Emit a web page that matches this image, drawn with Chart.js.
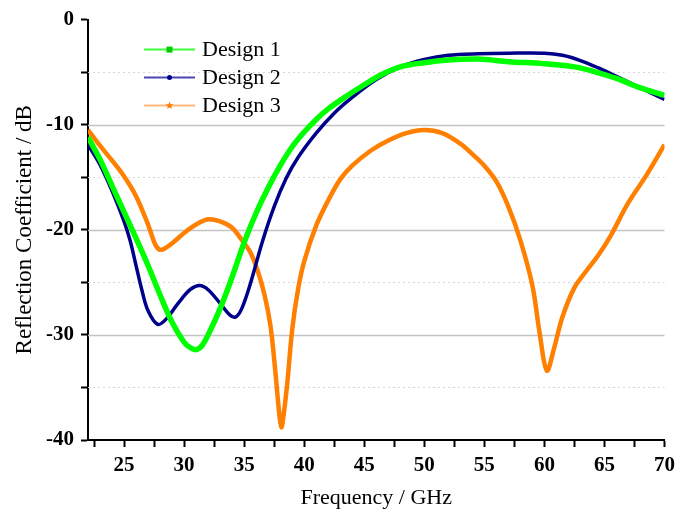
<!DOCTYPE html>
<html>
<head>
<meta charset="utf-8">
<script src="https://cdn.jsdelivr.net/npm/chart.js@4.4.1/dist/chart.umd.min.js"></script>
<style>
  html, body { margin: 0; padding: 0; background: #fff; }
  #wrap { width: 681px; height: 513px; }
</style>
</head>
<body>
<div id="wrap"><canvas id="chart"></canvas></div>
<script>
// Design 1 (green)
const freq1 = [22, 23, 24, 25, 26, 27, 28, 29, 30, 30.5, 31, 31.5, 32, 33, 34, 35, 36, 37, 38, 39, 40, 41, 42, 43.5, 45, 46.5, 48, 50, 52, 54.5, 57, 60, 62.5, 64, 66, 68, 70];
const s11_1 = [-11.2, -13.3, -15.8, -18.3, -20.8, -23.4, -26.2, -28.8, -30.7, -31.2, -31.4, -31.0, -30.0, -27.5, -24.5, -21.2, -18.4, -16.0, -13.9, -12.1, -10.7, -9.5, -8.5, -7.3, -6.2, -5.2, -4.5, -4.1, -3.85, -3.75, -4.0, -4.2, -4.5, -4.9, -5.6, -6.5, -7.2];

// Design 2 (navy)
const freq2 = [22, 23, 24, 25, 25.5, 26, 26.5, 27, 27.8, 28.5, 29.5, 30.5, 31.3, 32, 33, 33.8, 34.3, 34.8, 35.5, 36.5, 37.5, 38.5, 39.5, 41, 42.5, 44, 46, 48, 50, 52, 54.5, 57, 60, 61.5, 63, 64.5, 66, 68, 70];
const s11_2 = [-11.9, -13.8, -16.3, -19.2, -21.0, -23.4, -25.8, -27.7, -29.0, -28.5, -27.0, -25.7, -25.3, -25.7, -27.0, -28.1, -28.3, -27.5, -25.2, -21.2, -17.8, -15.1, -13.1, -10.8, -8.9, -7.4, -5.7, -4.5, -3.8, -3.4, -3.25, -3.2, -3.2, -3.4, -3.9, -4.6, -5.4, -6.5, -7.6];

// Design 3 (orange)
const freq3 = [22, 23, 24, 25, 26, 27, 27.6, 28, 28.5, 29.2, 30, 31, 32, 33, 34, 34.7, 35.5, 36.1, 36.7, 37.2, 37.6, 37.9, 38.1, 38.3, 38.6, 39, 39.5, 40, 41, 42, 43, 44, 45.5, 47, 48.5, 50, 51.5, 53, 54, 55, 56, 57, 58, 59, 59.6, 60.2, 60.8, 61.5, 62.5, 63.5, 64.5, 65.5, 67, 68.5, 70];
const s11_3 = [-10.5, -12.0, -13.4, -14.9, -16.8, -19.5, -21.4, -21.9, -21.7, -21.1, -20.3, -19.5, -19.0, -19.2, -19.8, -20.8, -22.1, -23.8, -26.2, -29.2, -33.5, -37.2, -38.8, -37.5, -34.5, -29.5, -25.6, -23.0, -19.6, -17.2, -15.2, -13.9, -12.5, -11.5, -10.8, -10.5, -10.8, -11.8, -12.8, -13.9, -15.4, -17.8, -21.0, -25.3, -29.8, -33.4, -31.3, -28.3, -25.5, -23.9, -22.4, -20.6, -17.4, -14.8, -11.9];

const seriesNames = ['Design 1', 'Design 2', 'Design 3'];
const xTicks = [22.5, 25, 27.5, 30, 32.5, 35, 37.5, 40, 42.5, 45, 47.5, 50, 52.5, 55, 57.5, 60, 62.5, 65, 67.5, 70];
const yTicks = [0, -5, -10, -15, -20, -25, -30, -35, -40];

const serif = "'Liberation Serif', 'Times New Roman', serif";

function pts(xs, ys) {
    return xs.map((x, i) => ({x: x, y: ys[i]}));
}

// horizontal grid lines: solid every 10 dB, dotted in between
const gridLines = {
    id: 'gridLines',
    beforeDatasetsDraw(chart) {
        const {ctx, chartArea, scales: {y}} = chart;
        ctx.save();
        yTicks.forEach(v => {
            if (v === 0 || v === -40) return;
            const py = Math.round(y.getPixelForValue(v)) + 0.5;
            ctx.beginPath();
            if (v % 10 === 0) {
                ctx.strokeStyle = '#c4c4c4';
                ctx.lineWidth = 1.5;
                ctx.setLineDash([]);
            } else {
                ctx.strokeStyle = '#d6d6d6';
                ctx.lineWidth = 1;
                ctx.setLineDash([2, 3]);
            }
            ctx.moveTo(chartArea.left, py);
            ctx.lineTo(chartArea.right, py);
            ctx.stroke();
        });
        ctx.restore();
    }
};

// legend inside the plot, line with a small marker
const innerLegend = {
    id: 'innerLegend',
    afterDraw(chart) {
        const {ctx, chartArea} = chart;
        const lineCols = ['#3cff3c', '#4848b0', '#ffb880'];
        const markCols = ['#00cc00', '#00008b', '#ff7f00'];
        ctx.save();
        seriesNames.forEach((name, i) => {
            const y = chartArea.top + 30 + i * 28;
            const x0 = chartArea.left + 56, x1 = chartArea.left + 107;
            ctx.strokeStyle = lineCols[i];
            ctx.lineWidth = 2;
            ctx.beginPath();
            ctx.moveTo(x0, y);
            ctx.lineTo(x1, y);
            ctx.stroke();
            const cx = (x0 + x1) / 2;
            ctx.fillStyle = markCols[i];
            if (i === 0) {
                ctx.fillRect(cx - 3, y - 3, 6, 6);
            } else if (i === 1) {
                ctx.beginPath();
                ctx.arc(cx, y, 2.5, 0, Math.PI * 2);
                ctx.fill();
            } else {
                ctx.beginPath();
                for (let k = 0; k < 10; k++) {
                    const r = k % 2 === 0 ? 4 : 1.8;
                    const a = -Math.PI / 2 + k * Math.PI / 5;
                    ctx.lineTo(cx + r * Math.cos(a), y + r * Math.sin(a));
                }
                ctx.closePath();
                ctx.fill();
            }
            ctx.fillStyle = '#000';
            ctx.font = '22px ' + serif;
            ctx.textBaseline = 'middle';
            ctx.textAlign = 'left';
            ctx.fillText(name, x1 + 7, y + 1);
        });
        ctx.restore();
    }
};

new Chart(document.getElementById('chart'), {
    type: 'line',
    data: {
        datasets: [
            {label: seriesNames[0], data: pts(freq1, s11_1), borderColor: '#00ff00', borderWidth: 5.5},
            {label: seriesNames[1], data: pts(freq2, s11_2), borderColor: '#00008b', borderWidth: 3.5},
            {label: seriesNames[2], data: pts(freq3, s11_3), borderColor: '#ff7f00', borderWidth: 4.5}
        ]
    },
    options: {
        responsive: true,
        maintainAspectRatio: false,
        animation: false,
        devicePixelRatio: 1,
        layout: {padding: {top: 17, right: 14, left: 0, bottom: 0}},
        datasets: {
            line: {pointRadius: 0, tension: 0.35, fill: false}
        },
        plugins: {
            legend: {display: false},
            tooltip: {enabled: false}
        },
        scales: {
            x: {
                type: 'linear',
                min: 22,
                max: 70,
                afterBuildTicks: s => { s.ticks = xTicks.map(v => ({value: v})); },
                afterFit: s => { s.height = 73; },
                ticks: {
                    autoSkip: false,
                    maxRotation: 0,
                    padding: 6,
                    color: '#000',
                    font: {family: serif, size: 21, weight: 'bold'},
                    callback: v => (v % 5 === 0 ? v : '')
                },
                grid: {drawOnChartArea: false, tickLength: 7, tickColor: '#000', tickWidth: 2},
                border: {color: '#000', width: 2},
                title: {
                    display: true,
                    align: 'center',
                    text: 'Frequency / GHz',
                    color: '#000',
                    font: {family: serif, size: 22},
                    padding: {top: 0, bottom: 2}
                }
            },
            y: {
                type: 'linear',
                min: -40,
                max: 0,
                afterBuildTicks: s => { s.ticks = yTicks.map(v => ({value: v})); },
                afterFit: s => { s.width = 88; },
                ticks: {
                    padding: 7,
                    color: '#000',
                    font: {family: serif, size: 21, weight: 'bold'},
                    callback: v => (v % 10 === 0 ? v : '')
                },
                grid: {drawOnChartArea: false, tickLength: 7, tickColor: '#000', tickWidth: 2},
                border: {color: '#000', width: 2},
                title: {
                    display: true,
                    text: 'Reflection Coefficient / dB',
                    color: '#000',
                    font: {family: serif, size: 23},
                    padding: {top: 11, bottom: 0}
                }
            }
        }
    },
    plugins: [gridLines, innerLegend]
});
</script>
</body>
</html>
